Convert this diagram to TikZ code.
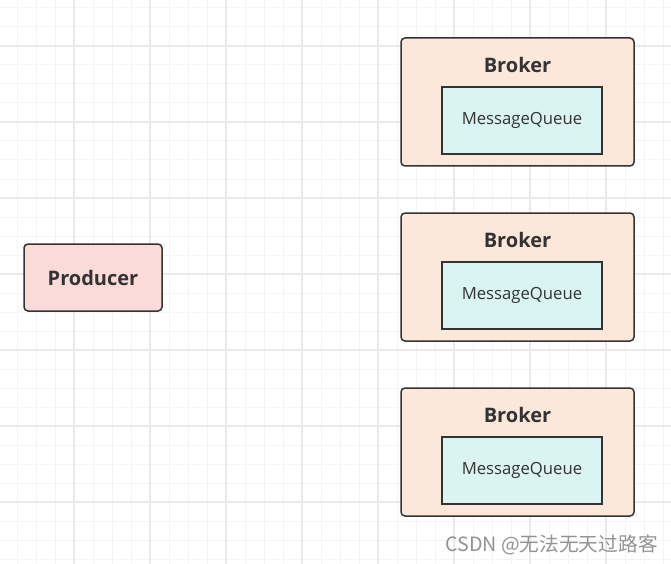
\documentclass[tikz,border=0pt]{standalone}
\usepackage{fontspec}
\setmainfont{Open Sans}
\newfontfamily\cjk{Noto Sans CJK SC}
\usepackage{tikz}

\definecolor{ink}{HTML}{333333}
\definecolor{prodfill}{HTML}{FADBD8}
\definecolor{brokerfill}{HTML}{FCE8DA}
\definecolor{queuefill}{HTML}{DAF3F3}
\definecolor{minorgrid}{HTML}{F4F4F4}
\definecolor{majorgrid}{HTML}{EAEAEA}

\tikzset{
  box/.style={draw=ink, line width=1.5pt, rounded corners=4pt},
  producerbox/.style={box, fill=prodfill, minimum width=138, minimum height=67,
    font=\fontsize{20}{22}\selectfont\bfseries, text=ink},
  brokerbox/.style={box, fill=brokerfill, minimum width=233, minimum height=128},
  brokertitle/.style={font=\fontsize{20}{22}\selectfont\bfseries, text=ink},
  queuebox/.style={draw=ink, line width=1.5pt, fill=queuefill, minimum width=160,
    minimum height=67, font=\fontsize{16.7}{19}\selectfont, text=ink},
}

\begin{document}
\begin{tikzpicture}[x=1pt, y=-1pt]
  \useasboundingbox (0,0) rectangle (671,564);
  \fill [white] (0,0) rectangle (671,564);

  % background grid
  \foreach \k in {1,...,35}
    \draw [minorgrid, line width=1pt] ({-2+19*\k},0) -- ({-2+19*\k},564);
  \foreach \k in {0,...,29}
    \draw [minorgrid, line width=1pt] (0,{8+19*\k}) -- (671,{8+19*\k});
  \foreach \k in {0,...,7}
    \draw [majorgrid, line width=1.2pt] ({74+76*\k},0) -- ({74+76*\k},564);
  \foreach \k in {0,...,6}
    \draw [majorgrid, line width=1.2pt] (0,{46+76*\k}) -- (671,{46+76*\k});

  \node [producerbox] at (93,277.5) (Producer) {Producer};

  \node [brokerbox]   at (517.5,102) (BrokerA) {};
  \node [brokertitle] at (517.5,65)  (BrokerATitle) {Broker};
  \node [queuebox]    at (522,120.5) (QueueA) {MessageQueue};

  \node [brokerbox]   at (517.5,277) (BrokerB) {};
  \node [brokertitle] at (517.5,240) (BrokerBTitle) {Broker};
  \node [queuebox]    at (522,295.5) (QueueB) {MessageQueue};

  \node [brokerbox]   at (517.5,452) (BrokerC) {};
  \node [brokertitle] at (517.5,415) (BrokerCTitle) {Broker};
  \node [queuebox]    at (522,470.5) (QueueC) {MessageQueue};

  \node [text=gray!85, font=\cjk\fontsize{19.7}{23}\selectfont] at (551.5,545) (Mark)
    {CSDN @无法无天过路客};
\end{tikzpicture}
\end{document}
